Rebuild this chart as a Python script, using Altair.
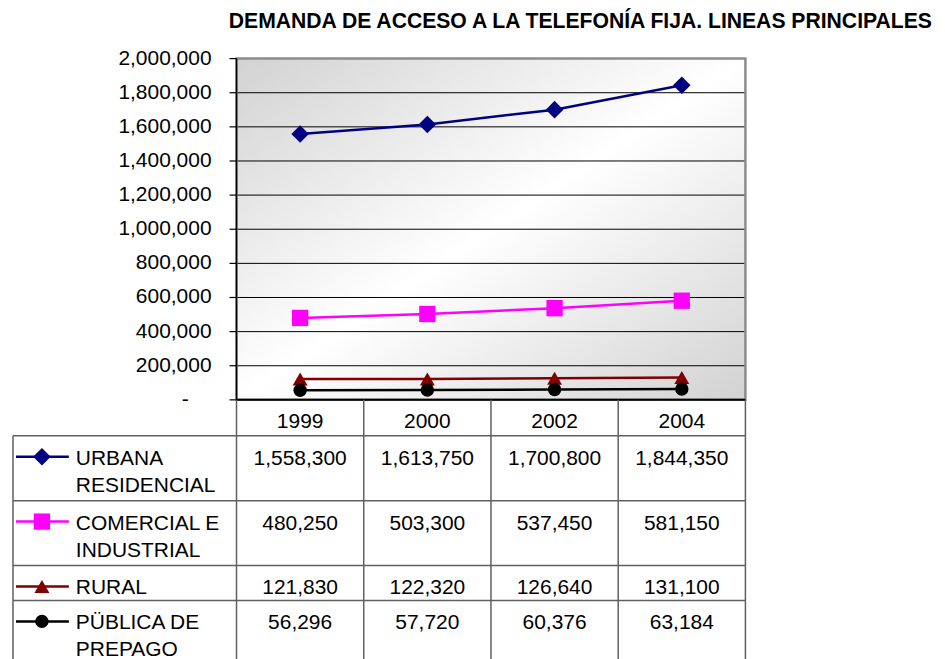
import altair as alt
import pandas as pd

# ---------------- data ----------------
TITLE = "DEMANDA DE ACCESO A LA TELEFONÍA FIJA. LINEAS PRINCIPALES"
YEARS = ["1999", "2000", "2002", "2004"]
SERIES = ["URBANA\nRESIDENCIAL", "COMERCIAL E\nINDUSTRIAL", "RURAL", "PÜBLICA DE\nPREPAGO"]
URBANA = [1558300, 1613750, 1700800, 1844350]
COMERCIAL = [480250, 503300, 537450, 581150]
RURAL = [121830, 122320, 126640, 131100]
PUBLICA = [56296, 57720, 60376, 63184]
Y_TICKS = [0, 200000, 400000, 600000, 800000, 1000000, 1200000,
           1400000, 1600000, 1800000, 2000000]
Y_LABELS = ["-"] + [f"{v:,}" for v in Y_TICKS[1:]]

COLORS = ["#000080", "#FF00FF", "#800000", "#000000"]
SHAPES = ["diamond", "square", "triangle-up", "circle"]
SIZES = [310, 180, 270, 180]
LEGEND_SIZES = [170, 120, 170, 120]

# ---------------- layout ----------------
FONT = "Liberation Sans"
FS = 21
PLOT_W = 510
PLOT_H = 342
LEFT_W = 224
N = len(YEARS)
COL_W = PLOT_W / N
LO = -LEFT_W / COL_W
YMAX = Y_TICKS[-1]
TICK_LEN = 7
LABEL_PAD = 18
ZERO_PAD = 48

HEADER_H = 36
HEADER_BASE = 28
ROW_BASE = 29
SYM_OFF = 21
LINE_H = 27

all_values = [URBANA, COMERCIAL, RURAL, PUBLICA]
line_counts = [len(s.split("\n")) for s in SERIES]
row_heights = [5 + 30 * n for n in line_counts]
row_tops = []
t = HEADER_H
for h in row_heights:
    row_tops.append(t)
    t += h
TABLE_H = t

recs = []
for si, (name, vals) in enumerate(zip(SERIES, all_values)):
    for yi, (yr, v) in enumerate(zip(YEARS, vals)):
        recs.append(dict(series=name, year=yr, xpos=yi + 0.5, value=v,
                         label=f"{v:,}", base=row_tops[si] + ROW_BASE))
df = pd.DataFrame(recs)

ns = len(SERIES)
ser_df = pd.DataFrame(dict(series=SERIES,
                           base=[rt + ROW_BASE for rt in row_tops],
                           sym_y=[rt + SYM_OFF for rt in row_tops],
                           lx=[LO] * ns,
                           sx0=[LO + 3 / COL_W] * ns,
                           sx1=[LO + 56 / COL_W] * ns,
                           sxm=[LO + 29 / COL_W] * ns))
year_df = pd.DataFrame(dict(year=YEARS, xpos=[i + 0.5 for i in range(N)],
                            base=[HEADER_BASE] * N))

color_scale = alt.Scale(domain=SERIES, range=COLORS)
shape_scale = alt.Scale(domain=SERIES, range=SHAPES)

xscale = alt.Scale(domain=[LO, N], nice=False, zero=False)
yscale = alt.Scale(domain=[0, YMAX], nice=False, zero=False)

# ---------------- top chart ----------------
frame = pd.DataFrame({"x0": [0], "x1": [N], "y0": [0], "y1": [YMAX]})
gradient = {
    "gradient": "linear", "x1": 0, "y1": 0, "x2": 1, "y2": 1,
    "stops": [{"offset": 0, "color": "#d2d2d2"},
              {"offset": 0.5, "color": "#ffffff"},
              {"offset": 1, "color": "#d2d2d2"}]}

X0 = alt.X("x0:Q", scale=xscale, axis=None)
NOAX = dict(scale=yscale, axis=None)

bg = alt.Chart(frame).mark_rect(fill=gradient).encode(
    x=X0, x2="x1:Q", y=alt.Y("y0:Q", **NOAX), y2="y1:Q")

grid_df = pd.DataFrame({"v": Y_TICKS[1:-1], "x0": 0, "x1": N})
grid = alt.Chart(grid_df).mark_rule(color="#000000", strokeWidth=1).encode(
    x=X0, x2="x1:Q", y=alt.Y("v:Q", **NOAX))

border = alt.Chart(frame).mark_rect(fillOpacity=0, stroke="#8c8c8c", strokeWidth=2.5).encode(
    x=X0, x2="x1:Q", y=alt.Y("y0:Q", **NOAX), y2="y1:Q")

bottom = alt.Chart(frame).mark_rule(color="#000000", strokeWidth=2).encode(
    x=X0, x2="x1:Q", y=alt.Y("y0:Q", **NOAX))

# y axis drawn from the tick table
tick_df = pd.DataFrame({"v": Y_TICKS, "lab": Y_LABELS,
                        "x0": -TICK_LEN / COL_W, "x1": 0})
axis_line = alt.Chart(frame).mark_rule(color="#000000", strokeWidth=1.5).encode(
    x=X0, y=alt.Y("y0:Q", **NOAX), y2="y1:Q")
ticks = alt.Chart(tick_df).mark_rule(color="#000000", strokeWidth=1.2).encode(
    x=X0, x2="x1:Q", y=alt.Y("v:Q", **NOAX))
lab_props = dict(align="right", baseline="middle", font=FONT, fontSize=FS, color="#000000")
tick_lab = alt.Chart(tick_df.iloc[1:]).mark_text(
    dx=-(TICK_LEN + LABEL_PAD), **lab_props).encode(
    x=alt.X("x1:Q", scale=xscale, axis=None),
    y=alt.Y("v:Q", **NOAX), text="lab:N")
zero_lab = alt.Chart(tick_df.iloc[:1]).mark_text(
    dx=-ZERO_PAD, **lab_props).encode(
    x=alt.X("x1:Q", scale=xscale, axis=None),
    y=alt.Y("v:Q", **NOAX), text="lab:N")

lines = alt.Chart(df).mark_line(strokeWidth=2.5).encode(
    x=alt.X("xpos:Q", scale=xscale, axis=None),
    y=alt.Y("value:Q", **NOAX),
    color=alt.Color("series:N", scale=color_scale, legend=None),
)
points = alt.Chart(df).mark_point(filled=True, opacity=1).encode(
    x=alt.X("xpos:Q", scale=xscale, axis=None),
    y=alt.Y("value:Q", **NOAX),
    color=alt.Color("series:N", scale=color_scale, legend=None),
    shape=alt.Shape("series:N", scale=shape_scale, legend=None),
    size=alt.Size("series:N", scale=alt.Scale(domain=SERIES, range=SIZES), legend=None),
)

top = alt.layer(bg, grid, border, bottom, axis_line, ticks, tick_lab, zero_lab,
                lines, points).properties(width=PLOT_W + LEFT_W, height=PLOT_H)

# ---------------- data table ----------------
tyscale = alt.Scale(domain=[0, TABLE_H], reverse=True, nice=False, zero=False)
TABLE_LINE = "#606060"

h_bounds = [HEADER_H] + [rt + h for rt, h in zip(row_tops, row_heights)]
hlines = pd.DataFrame(dict(y=h_bounds, x=[LO] * len(h_bounds), x2=[N] * len(h_bounds)))
vlines = pd.DataFrame(dict(x=[LO] + list(range(N + 1)),
                           y=[HEADER_H] + [0] * (N + 1),
                           y2=[TABLE_H] * (N + 2)))

hl = alt.Chart(hlines).mark_rule(color=TABLE_LINE, strokeWidth=1.5).encode(
    x=alt.X("x:Q", scale=xscale, axis=None), x2="x2:Q",
    y=alt.Y("y:Q", scale=tyscale, axis=None))
vl = alt.Chart(vlines).mark_rule(color=TABLE_LINE, strokeWidth=1.5).encode(
    x=alt.X("x:Q", scale=xscale, axis=None),
    y=alt.Y("y:Q", scale=tyscale, axis=None), y2="y2:Q")

text_props = dict(font=FONT, fontSize=FS, color="#000000", baseline="alphabetic")

year_txt = alt.Chart(year_df).mark_text(align="center", **text_props).encode(
    x=alt.X("xpos:Q", scale=xscale, axis=None),
    y=alt.Y("base:Q", scale=tyscale, axis=None), text="year:N")

val_txt = alt.Chart(df).mark_text(align="center", **text_props).encode(
    x=alt.X("xpos:Q", scale=xscale, axis=None),
    y=alt.Y("base:Q", scale=tyscale, axis=None), text="label:N")

lab_txt = alt.Chart(ser_df).mark_text(
    align="left", dx=63, lineBreak="\n", lineHeight=LINE_H, **text_props).encode(
    x=alt.X("lx:Q", scale=xscale, axis=None),
    y=alt.Y("base:Q", scale=tyscale, axis=None), text="series:N")

sym_line = alt.Chart(ser_df).mark_rule(strokeWidth=2.5).encode(
    x=alt.X("sx0:Q", scale=xscale, axis=None), x2="sx1:Q",
    y=alt.Y("sym_y:Q", scale=tyscale, axis=None),
    color=alt.Color("series:N", scale=color_scale, legend=None))

sym_pt = alt.Chart(ser_df).mark_point(filled=True, opacity=1).encode(
    x=alt.X("sxm:Q", scale=xscale, axis=None),
    y=alt.Y("sym_y:Q", scale=tyscale, axis=None),
    color=alt.Color("series:N", scale=color_scale, legend=None),
    shape=alt.Shape("series:N", scale=shape_scale, legend=None),
    size=alt.Size("series:N", scale=alt.Scale(domain=SERIES, range=LEGEND_SIZES), legend=None))

table = alt.layer(hl, vl, year_txt, val_txt, lab_txt, sym_line, sym_pt).properties(
    width=PLOT_W + LEFT_W, height=TABLE_H)

chart = alt.vconcat(top, table, spacing=0, bounds="flush").properties(
    title=alt.TitleParams(TITLE, anchor="start", dx=217, fontSize=21.2, font=FONT,
                          fontWeight="bold", color="#000000", offset=15),
    padding={"left": 4, "top": 2, "right": 0, "bottom": 0},
).configure_view(stroke=None)

chart.save("out.html", embed_options={"renderer": "svg", "actions": False})
